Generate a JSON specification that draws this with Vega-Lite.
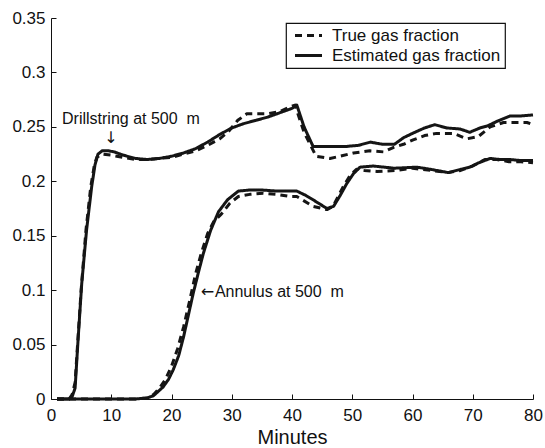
{
  "$schema": "https://vega.github.io/schema/vega-lite/v6.json",
  "width": 482,
  "height": 381,
  "autosize": "none",
  "padding": {"left": 51, "top": 18, "right": 12, "bottom": 49},
  "background": "white",
  "config": {
    "font": "Liberation Sans",
    "view": {"stroke": null},
    "axis": {
      "grid": false,
      "domainColor": "#111111",
      "domainWidth": 1,
      "tickColor": "#111111",
      "tickSize": -5,
      "labelColor": "#111111",
      "labelFont": "Liberation Sans",
      "labelFontSize": 17,
      "titleFont": "Liberation Sans",
      "titleFontSize": 20,
      "titleFontWeight": "normal",
      "titleColor": "#111111"
    }
  },
  "datasets": {
    "curves": [
      {"t": 1, "frac": 0, "kind": "Estimated gas fraction", "loc": "Drillstring"},
      {"t": 2, "frac": 0, "kind": "Estimated gas fraction", "loc": "Drillstring"},
      {"t": 3, "frac": 0, "kind": "Estimated gas fraction", "loc": "Drillstring"},
      {"t": 3.5, "frac": 0.002, "kind": "Estimated gas fraction", "loc": "Drillstring"},
      {"t": 4, "frac": 0.01, "kind": "Estimated gas fraction", "loc": "Drillstring"},
      {"t": 4.5, "frac": 0.055, "kind": "Estimated gas fraction", "loc": "Drillstring"},
      {"t": 5.1, "frac": 0.106, "kind": "Estimated gas fraction", "loc": "Drillstring"},
      {"t": 5.9, "frac": 0.155, "kind": "Estimated gas fraction", "loc": "Drillstring"},
      {"t": 6.75, "frac": 0.195, "kind": "Estimated gas fraction", "loc": "Drillstring"},
      {"t": 7.3, "frac": 0.215, "kind": "Estimated gas fraction", "loc": "Drillstring"},
      {"t": 7.8, "frac": 0.225, "kind": "Estimated gas fraction", "loc": "Drillstring"},
      {"t": 8.5, "frac": 0.228, "kind": "Estimated gas fraction", "loc": "Drillstring"},
      {"t": 9.5, "frac": 0.228, "kind": "Estimated gas fraction", "loc": "Drillstring"},
      {"t": 10.5, "frac": 0.227, "kind": "Estimated gas fraction", "loc": "Drillstring"},
      {"t": 12, "frac": 0.224, "kind": "Estimated gas fraction", "loc": "Drillstring"},
      {"t": 14, "frac": 0.221, "kind": "Estimated gas fraction", "loc": "Drillstring"},
      {"t": 16, "frac": 0.22, "kind": "Estimated gas fraction", "loc": "Drillstring"},
      {"t": 18, "frac": 0.221, "kind": "Estimated gas fraction", "loc": "Drillstring"},
      {"t": 20, "frac": 0.223, "kind": "Estimated gas fraction", "loc": "Drillstring"},
      {"t": 22, "frac": 0.226, "kind": "Estimated gas fraction", "loc": "Drillstring"},
      {"t": 24, "frac": 0.23, "kind": "Estimated gas fraction", "loc": "Drillstring"},
      {"t": 26, "frac": 0.236, "kind": "Estimated gas fraction", "loc": "Drillstring"},
      {"t": 28, "frac": 0.243, "kind": "Estimated gas fraction", "loc": "Drillstring"},
      {"t": 30, "frac": 0.249, "kind": "Estimated gas fraction", "loc": "Drillstring"},
      {"t": 32, "frac": 0.253, "kind": "Estimated gas fraction", "loc": "Drillstring"},
      {"t": 34, "frac": 0.256, "kind": "Estimated gas fraction", "loc": "Drillstring"},
      {"t": 36, "frac": 0.259, "kind": "Estimated gas fraction", "loc": "Drillstring"},
      {"t": 38, "frac": 0.263, "kind": "Estimated gas fraction", "loc": "Drillstring"},
      {"t": 40, "frac": 0.267, "kind": "Estimated gas fraction", "loc": "Drillstring"},
      {"t": 40.8, "frac": 0.27, "kind": "Estimated gas fraction", "loc": "Drillstring"},
      {"t": 42, "frac": 0.25, "kind": "Estimated gas fraction", "loc": "Drillstring"},
      {"t": 43.5, "frac": 0.232, "kind": "Estimated gas fraction", "loc": "Drillstring"},
      {"t": 46, "frac": 0.232, "kind": "Estimated gas fraction", "loc": "Drillstring"},
      {"t": 49, "frac": 0.232, "kind": "Estimated gas fraction", "loc": "Drillstring"},
      {"t": 51, "frac": 0.233, "kind": "Estimated gas fraction", "loc": "Drillstring"},
      {"t": 53, "frac": 0.236, "kind": "Estimated gas fraction", "loc": "Drillstring"},
      {"t": 55, "frac": 0.234, "kind": "Estimated gas fraction", "loc": "Drillstring"},
      {"t": 57, "frac": 0.234, "kind": "Estimated gas fraction", "loc": "Drillstring"},
      {"t": 58.5, "frac": 0.24, "kind": "Estimated gas fraction", "loc": "Drillstring"},
      {"t": 60, "frac": 0.244, "kind": "Estimated gas fraction", "loc": "Drillstring"},
      {"t": 62, "frac": 0.249, "kind": "Estimated gas fraction", "loc": "Drillstring"},
      {"t": 63.7, "frac": 0.252, "kind": "Estimated gas fraction", "loc": "Drillstring"},
      {"t": 65.7, "frac": 0.249, "kind": "Estimated gas fraction", "loc": "Drillstring"},
      {"t": 67.9, "frac": 0.248, "kind": "Estimated gas fraction", "loc": "Drillstring"},
      {"t": 69.5, "frac": 0.245, "kind": "Estimated gas fraction", "loc": "Drillstring"},
      {"t": 71.2, "frac": 0.249, "kind": "Estimated gas fraction", "loc": "Drillstring"},
      {"t": 72.5, "frac": 0.251, "kind": "Estimated gas fraction", "loc": "Drillstring"},
      {"t": 74, "frac": 0.255, "kind": "Estimated gas fraction", "loc": "Drillstring"},
      {"t": 76.2, "frac": 0.26, "kind": "Estimated gas fraction", "loc": "Drillstring"},
      {"t": 78, "frac": 0.26, "kind": "Estimated gas fraction", "loc": "Drillstring"},
      {"t": 80, "frac": 0.261, "kind": "Estimated gas fraction", "loc": "Drillstring"},

      {"t": 1, "frac": 0, "kind": "True gas fraction", "loc": "Drillstring"},
      {"t": 2, "frac": 0, "kind": "True gas fraction", "loc": "Drillstring"},
      {"t": 3, "frac": 0, "kind": "True gas fraction", "loc": "Drillstring"},
      {"t": 3.5, "frac": 0.004, "kind": "True gas fraction", "loc": "Drillstring"},
      {"t": 4, "frac": 0.015, "kind": "True gas fraction", "loc": "Drillstring"},
      {"t": 5, "frac": 0.1, "kind": "True gas fraction", "loc": "Drillstring"},
      {"t": 5.8, "frac": 0.155, "kind": "True gas fraction", "loc": "Drillstring"},
      {"t": 6.6, "frac": 0.195, "kind": "True gas fraction", "loc": "Drillstring"},
      {"t": 7.2, "frac": 0.215, "kind": "True gas fraction", "loc": "Drillstring"},
      {"t": 7.6, "frac": 0.222, "kind": "True gas fraction", "loc": "Drillstring"},
      {"t": 8.5, "frac": 0.225, "kind": "True gas fraction", "loc": "Drillstring"},
      {"t": 10, "frac": 0.224, "kind": "True gas fraction", "loc": "Drillstring"},
      {"t": 12, "frac": 0.222, "kind": "True gas fraction", "loc": "Drillstring"},
      {"t": 14, "frac": 0.22, "kind": "True gas fraction", "loc": "Drillstring"},
      {"t": 16, "frac": 0.22, "kind": "True gas fraction", "loc": "Drillstring"},
      {"t": 18, "frac": 0.221, "kind": "True gas fraction", "loc": "Drillstring"},
      {"t": 20, "frac": 0.222, "kind": "True gas fraction", "loc": "Drillstring"},
      {"t": 22, "frac": 0.225, "kind": "True gas fraction", "loc": "Drillstring"},
      {"t": 24, "frac": 0.228, "kind": "True gas fraction", "loc": "Drillstring"},
      {"t": 26, "frac": 0.233, "kind": "True gas fraction", "loc": "Drillstring"},
      {"t": 28, "frac": 0.239, "kind": "True gas fraction", "loc": "Drillstring"},
      {"t": 29.5, "frac": 0.246, "kind": "True gas fraction", "loc": "Drillstring"},
      {"t": 31, "frac": 0.256, "kind": "True gas fraction", "loc": "Drillstring"},
      {"t": 32.5, "frac": 0.262, "kind": "True gas fraction", "loc": "Drillstring"},
      {"t": 34, "frac": 0.262, "kind": "True gas fraction", "loc": "Drillstring"},
      {"t": 36, "frac": 0.262, "kind": "True gas fraction", "loc": "Drillstring"},
      {"t": 38, "frac": 0.264, "kind": "True gas fraction", "loc": "Drillstring"},
      {"t": 39.5, "frac": 0.268, "kind": "True gas fraction", "loc": "Drillstring"},
      {"t": 40.5, "frac": 0.27, "kind": "True gas fraction", "loc": "Drillstring"},
      {"t": 42, "frac": 0.245, "kind": "True gas fraction", "loc": "Drillstring"},
      {"t": 44, "frac": 0.223, "kind": "True gas fraction", "loc": "Drillstring"},
      {"t": 46.3, "frac": 0.221, "kind": "True gas fraction", "loc": "Drillstring"},
      {"t": 48, "frac": 0.223, "kind": "True gas fraction", "loc": "Drillstring"},
      {"t": 50.2, "frac": 0.226, "kind": "True gas fraction", "loc": "Drillstring"},
      {"t": 52.9, "frac": 0.228, "kind": "True gas fraction", "loc": "Drillstring"},
      {"t": 55.2, "frac": 0.227, "kind": "True gas fraction", "loc": "Drillstring"},
      {"t": 56.8, "frac": 0.231, "kind": "True gas fraction", "loc": "Drillstring"},
      {"t": 58.5, "frac": 0.234, "kind": "True gas fraction", "loc": "Drillstring"},
      {"t": 60.1, "frac": 0.238, "kind": "True gas fraction", "loc": "Drillstring"},
      {"t": 62, "frac": 0.242, "kind": "True gas fraction", "loc": "Drillstring"},
      {"t": 64, "frac": 0.244, "kind": "True gas fraction", "loc": "Drillstring"},
      {"t": 66.8, "frac": 0.244, "kind": "True gas fraction", "loc": "Drillstring"},
      {"t": 69, "frac": 0.239, "kind": "True gas fraction", "loc": "Drillstring"},
      {"t": 70.9, "frac": 0.241, "kind": "True gas fraction", "loc": "Drillstring"},
      {"t": 72.9, "frac": 0.25, "kind": "True gas fraction", "loc": "Drillstring"},
      {"t": 75.1, "frac": 0.254, "kind": "True gas fraction", "loc": "Drillstring"},
      {"t": 77, "frac": 0.254, "kind": "True gas fraction", "loc": "Drillstring"},
      {"t": 79, "frac": 0.254, "kind": "True gas fraction", "loc": "Drillstring"},
      {"t": 80, "frac": 0.252, "kind": "True gas fraction", "loc": "Drillstring"},

      {"t": 1, "frac": 0, "kind": "Estimated gas fraction", "loc": "Annulus"},
      {"t": 5, "frac": 0, "kind": "Estimated gas fraction", "loc": "Annulus"},
      {"t": 10, "frac": 0, "kind": "Estimated gas fraction", "loc": "Annulus"},
      {"t": 14, "frac": 0, "kind": "Estimated gas fraction", "loc": "Annulus"},
      {"t": 16, "frac": 0.001, "kind": "Estimated gas fraction", "loc": "Annulus"},
      {"t": 17, "frac": 0.003, "kind": "Estimated gas fraction", "loc": "Annulus"},
      {"t": 18, "frac": 0.008, "kind": "Estimated gas fraction", "loc": "Annulus"},
      {"t": 18.6, "frac": 0.011, "kind": "Estimated gas fraction", "loc": "Annulus"},
      {"t": 19.5, "frac": 0.018, "kind": "Estimated gas fraction", "loc": "Annulus"},
      {"t": 20.3, "frac": 0.027, "kind": "Estimated gas fraction", "loc": "Annulus"},
      {"t": 21.2, "frac": 0.04, "kind": "Estimated gas fraction", "loc": "Annulus"},
      {"t": 22, "frac": 0.057, "kind": "Estimated gas fraction", "loc": "Annulus"},
      {"t": 22.8, "frac": 0.077, "kind": "Estimated gas fraction", "loc": "Annulus"},
      {"t": 23.6, "frac": 0.097, "kind": "Estimated gas fraction", "loc": "Annulus"},
      {"t": 24.5, "frac": 0.117, "kind": "Estimated gas fraction", "loc": "Annulus"},
      {"t": 25.3, "frac": 0.134, "kind": "Estimated gas fraction", "loc": "Annulus"},
      {"t": 26.5, "frac": 0.155, "kind": "Estimated gas fraction", "loc": "Annulus"},
      {"t": 27.8, "frac": 0.172, "kind": "Estimated gas fraction", "loc": "Annulus"},
      {"t": 29.3, "frac": 0.183, "kind": "Estimated gas fraction", "loc": "Annulus"},
      {"t": 31.1, "frac": 0.191, "kind": "Estimated gas fraction", "loc": "Annulus"},
      {"t": 33, "frac": 0.192, "kind": "Estimated gas fraction", "loc": "Annulus"},
      {"t": 35, "frac": 0.192, "kind": "Estimated gas fraction", "loc": "Annulus"},
      {"t": 37.5, "frac": 0.191, "kind": "Estimated gas fraction", "loc": "Annulus"},
      {"t": 39.7, "frac": 0.191, "kind": "Estimated gas fraction", "loc": "Annulus"},
      {"t": 40.8, "frac": 0.191, "kind": "Estimated gas fraction", "loc": "Annulus"},
      {"t": 42.3, "frac": 0.187, "kind": "Estimated gas fraction", "loc": "Annulus"},
      {"t": 43.5, "frac": 0.183, "kind": "Estimated gas fraction", "loc": "Annulus"},
      {"t": 45.8, "frac": 0.175, "kind": "Estimated gas fraction", "loc": "Annulus"},
      {"t": 46.9, "frac": 0.177, "kind": "Estimated gas fraction", "loc": "Annulus"},
      {"t": 48, "frac": 0.187, "kind": "Estimated gas fraction", "loc": "Annulus"},
      {"t": 49.1, "frac": 0.198, "kind": "Estimated gas fraction", "loc": "Annulus"},
      {"t": 50.2, "frac": 0.207, "kind": "Estimated gas fraction", "loc": "Annulus"},
      {"t": 51.3, "frac": 0.213, "kind": "Estimated gas fraction", "loc": "Annulus"},
      {"t": 53.5, "frac": 0.214, "kind": "Estimated gas fraction", "loc": "Annulus"},
      {"t": 57, "frac": 0.212, "kind": "Estimated gas fraction", "loc": "Annulus"},
      {"t": 60.7, "frac": 0.213, "kind": "Estimated gas fraction", "loc": "Annulus"},
      {"t": 63, "frac": 0.211, "kind": "Estimated gas fraction", "loc": "Annulus"},
      {"t": 65.9, "frac": 0.208, "kind": "Estimated gas fraction", "loc": "Annulus"},
      {"t": 68, "frac": 0.211, "kind": "Estimated gas fraction", "loc": "Annulus"},
      {"t": 69.5, "frac": 0.213, "kind": "Estimated gas fraction", "loc": "Annulus"},
      {"t": 71, "frac": 0.217, "kind": "Estimated gas fraction", "loc": "Annulus"},
      {"t": 72.9, "frac": 0.221, "kind": "Estimated gas fraction", "loc": "Annulus"},
      {"t": 74.5, "frac": 0.22, "kind": "Estimated gas fraction", "loc": "Annulus"},
      {"t": 76.2, "frac": 0.22, "kind": "Estimated gas fraction", "loc": "Annulus"},
      {"t": 78, "frac": 0.219, "kind": "Estimated gas fraction", "loc": "Annulus"},
      {"t": 80, "frac": 0.219, "kind": "Estimated gas fraction", "loc": "Annulus"},

      {"t": 1, "frac": 0, "kind": "True gas fraction", "loc": "Annulus"},
      {"t": 5, "frac": 0, "kind": "True gas fraction", "loc": "Annulus"},
      {"t": 10, "frac": 0, "kind": "True gas fraction", "loc": "Annulus"},
      {"t": 14, "frac": 0, "kind": "True gas fraction", "loc": "Annulus"},
      {"t": 16, "frac": 0.001, "kind": "True gas fraction", "loc": "Annulus"},
      {"t": 17, "frac": 0.004, "kind": "True gas fraction", "loc": "Annulus"},
      {"t": 18, "frac": 0.01, "kind": "True gas fraction", "loc": "Annulus"},
      {"t": 19, "frac": 0.018, "kind": "True gas fraction", "loc": "Annulus"},
      {"t": 20, "frac": 0.03, "kind": "True gas fraction", "loc": "Annulus"},
      {"t": 21, "frac": 0.046, "kind": "True gas fraction", "loc": "Annulus"},
      {"t": 22, "frac": 0.066, "kind": "True gas fraction", "loc": "Annulus"},
      {"t": 23, "frac": 0.09, "kind": "True gas fraction", "loc": "Annulus"},
      {"t": 24, "frac": 0.115, "kind": "True gas fraction", "loc": "Annulus"},
      {"t": 25, "frac": 0.135, "kind": "True gas fraction", "loc": "Annulus"},
      {"t": 26, "frac": 0.152, "kind": "True gas fraction", "loc": "Annulus"},
      {"t": 27, "frac": 0.163, "kind": "True gas fraction", "loc": "Annulus"},
      {"t": 28.3, "frac": 0.17, "kind": "True gas fraction", "loc": "Annulus"},
      {"t": 29.7, "frac": 0.18, "kind": "True gas fraction", "loc": "Annulus"},
      {"t": 31.1, "frac": 0.186, "kind": "True gas fraction", "loc": "Annulus"},
      {"t": 33, "frac": 0.188, "kind": "True gas fraction", "loc": "Annulus"},
      {"t": 35.2, "frac": 0.189, "kind": "True gas fraction", "loc": "Annulus"},
      {"t": 37.5, "frac": 0.188, "kind": "True gas fraction", "loc": "Annulus"},
      {"t": 39.7, "frac": 0.186, "kind": "True gas fraction", "loc": "Annulus"},
      {"t": 40.8, "frac": 0.186, "kind": "True gas fraction", "loc": "Annulus"},
      {"t": 42, "frac": 0.182, "kind": "True gas fraction", "loc": "Annulus"},
      {"t": 43.5, "frac": 0.177, "kind": "True gas fraction", "loc": "Annulus"},
      {"t": 45.8, "frac": 0.174, "kind": "True gas fraction", "loc": "Annulus"},
      {"t": 46.8, "frac": 0.177, "kind": "True gas fraction", "loc": "Annulus"},
      {"t": 48.5, "frac": 0.195, "kind": "True gas fraction", "loc": "Annulus"},
      {"t": 49.6, "frac": 0.205, "kind": "True gas fraction", "loc": "Annulus"},
      {"t": 50.7, "frac": 0.211, "kind": "True gas fraction", "loc": "Annulus"},
      {"t": 52, "frac": 0.21, "kind": "True gas fraction", "loc": "Annulus"},
      {"t": 54.1, "frac": 0.209, "kind": "True gas fraction", "loc": "Annulus"},
      {"t": 57.4, "frac": 0.21, "kind": "True gas fraction", "loc": "Annulus"},
      {"t": 60, "frac": 0.212, "kind": "True gas fraction", "loc": "Annulus"},
      {"t": 63, "frac": 0.21, "kind": "True gas fraction", "loc": "Annulus"},
      {"t": 66, "frac": 0.208, "kind": "True gas fraction", "loc": "Annulus"},
      {"t": 68, "frac": 0.21, "kind": "True gas fraction", "loc": "Annulus"},
      {"t": 70, "frac": 0.214, "kind": "True gas fraction", "loc": "Annulus"},
      {"t": 72, "frac": 0.22, "kind": "True gas fraction", "loc": "Annulus"},
      {"t": 74, "frac": 0.22, "kind": "True gas fraction", "loc": "Annulus"},
      {"t": 76, "frac": 0.218, "kind": "True gas fraction", "loc": "Annulus"},
      {"t": 78, "frac": 0.218, "kind": "True gas fraction", "loc": "Annulus"},
      {"t": 80, "frac": 0.217, "kind": "True gas fraction", "loc": "Annulus"}
    ],
    "notes": [
      {"t": 1.83, "frac": 0.253, "label": "Drillstring at 500\u00a0 m"},
      {"t": 27.2, "frac": 0.0938, "label": "Annulus at 500\u00a0 m"}
    ],
    "arrows": [
      {"t": 9.96, "frac": 0.24, "label": "\u2193"},
      {"t": 25.97, "frac": 0.0987, "label": "\u2190"}
    ]
  },
  "layer": [
    {
      "data": {"name": "curves"},
      "mark": {"type": "line", "strokeWidth": 3, "color": "#151515", "strokeJoin": "round"},
      "encoding": {
        "x": {
          "field": "t",
          "type": "quantitative",
          "scale": {"domain": [0, 80], "nice": false},
          "axis": {
            "title": "Minutes",
            "values": [0, 10, 20, 30, 40, 50, 60, 70, 80],
            "labelPadding": 13,
            "titlePadding": 4,
            "labelFlush": false
          }
        },
        "y": {
          "field": "frac",
          "type": "quantitative",
          "scale": {"domain": [0, 0.35], "nice": false},
          "axis": {
            "title": null,
            "values": [0, 0.05, 0.1, 0.15, 0.2, 0.25, 0.3, 0.35],
            "format": ".2~f",
            "labelPadding": 11,
            "labelFlush": false
          }
        },
        "strokeDash": {
          "field": "kind",
          "type": "nominal",
          "scale": {
            "domain": ["True gas fraction", "Estimated gas fraction"],
            "range": [[7, 5], [1, 0]]
          },
          "legend": {
            "title": null,
            "orient": "none",
            "legendX": 235,
            "legendY": 5,
            "strokeColor": "#111111",
            "fillColor": "white",
            "padding": 4,
            "symbolOffset": 10,
            "symbolType": "M-3,0H3",
            "symbolSize": 81,
            "symbolStrokeWidth": 3,
            "symbolStrokeColor": "#151515",
            "labelFont": "Liberation Sans",
            "labelFontSize": 17,
            "labelColor": "#111111",
            "labelOffset": 15,
            "labelLimit": 400,
            "labelExpr": "datum.label + '\u00a0\u00a0\u00a0\u00a0\u00a0\u00a0\u00a0\u00a0\u00a0\u00a0'",
            "rowPadding": 2,
            "encode": {"legend": {"update": {"strokeWidth": {"value": 1.2}}}}
          }
        },
        "detail": {"field": "loc", "type": "nominal"}
      }
    },
    {
      "data": {"name": "notes"},
      "mark": {"type": "text", "fontSize": 16, "font": "Liberation Sans", "color": "#111111", "align": "left", "baseline": "alphabetic"},
      "encoding": {
        "x": {"field": "t", "type": "quantitative"},
        "y": {"field": "frac", "type": "quantitative"},
        "text": {"field": "label"}
      }
    },
    {
      "data": {"name": "arrows"},
      "mark": {"type": "text", "fontSize": 16, "font": "DejaVu Sans", "color": "#111111", "align": "center", "baseline": "middle"},
      "encoding": {
        "x": {"field": "t", "type": "quantitative"},
        "y": {"field": "frac", "type": "quantitative"},
        "text": {"field": "label"}
      }
    }
  ]
}
